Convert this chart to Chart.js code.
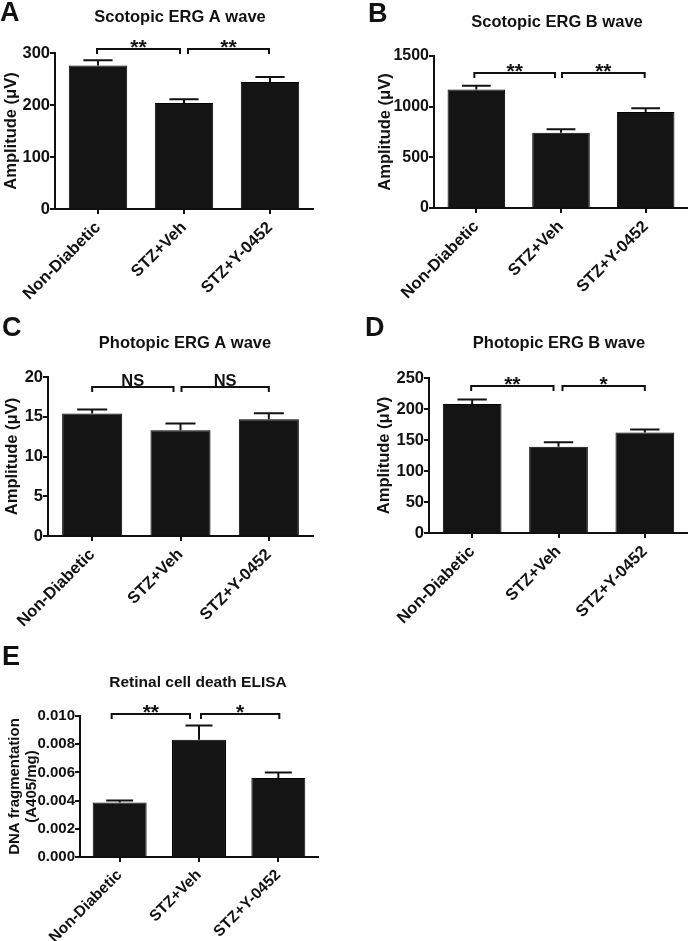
<!DOCTYPE html>
<html>
<head>
<meta charset="utf-8">
<script src="https://cdn.jsdelivr.net/npm/chart.js@4.4.1/dist/chart.umd.min.js"></script>
<style>
html,body{margin:0;padding:0;background:#fff;width:688px;height:941px;overflow:hidden;}
canvas{position:absolute;left:0;top:0;}
</style>
</head>
<body>
<canvas id="cA" width="688" height="941"></canvas>
<canvas id="cB" width="688" height="941"></canvas>
<canvas id="cC" width="688" height="941"></canvas>
<canvas id="cD" width="688" height="941"></canvas>
<canvas id="cE" width="688" height="941"></canvas>
<script>
// ---- data ----
const categories = ['Non-Diabetic', 'STZ+Veh', 'STZ+Y-0452'];

const scotopicA_mean = [276, 204, 244];
const scotopicA_sem  = [10, 7, 10];
const scotopicB_mean = [1170, 743, 947];
const scotopicB_sem  = [37, 34, 37];
const photopicA_mean = [15.4, 13.3, 14.7];
const photopicA_sem  = [0.5, 0.85, 0.75];
const photopicB_mean = [208, 139, 162];
const photopicB_sem  = [7.5, 7.5, 4.8];
const elisa_mean = [0.00387, 0.00832, 0.0056];
const elisa_sem  = [0.00014, 0.001, 0.0004];

const sigA = ['**', '**'];
const sigB = ['**', '**'];
const sigC = ['NS', 'NS'];
const sigD = ['**', '*'];
const sigE = ['**', '*'];

const ticksA = {max: 300, step: 100};
const ticksB = {max: 1500, step: 500};
const ticksC = {max: 20, step: 5};
const ticksD = {max: 250, step: 50};
const ticksE = {max: 0.010, step: 0.002};

// ---- drawing ----
const FONT = "'Liberation Sans', Arial, Helvetica, sans-serif";
const INK = '#111111';

const annotPlugin = {
  id: 'annot',
  afterDatasetsDraw(chart, args, o) {
    const ctx = chart.ctx;
    const meta = chart.getDatasetMeta(0);
    const ys = chart.scales.y;
    const xs = chart.scales.x;
    ctx.save();
    // error bars
    ctx.strokeStyle = INK;
    ctx.lineWidth = 2;
    o.mean.forEach((m, i) => {
      const bar = meta.data[i];
      const yTop = ys.getPixelForValue(m + o.sem[i]);
      const half = bar.width * 0.25;
      ctx.beginPath();
      ctx.moveTo(bar.x, bar.y);
      ctx.lineTo(bar.x, yTop);
      ctx.moveTo(bar.x - half, yTop);
      ctx.lineTo(bar.x + half, yTop);
      ctx.stroke();
    });
    // brackets
    o.brackets.forEach((b, k) => {
      const x0 = xs.getPixelForValue(b.from) + b.d0;
      const x1 = xs.getPixelForValue(b.to) + b.d1;
      const y = o.bracketY;
      ctx.beginPath();
      ctx.moveTo(x0, y + 5);
      ctx.lineTo(x0, y);
      ctx.lineTo(x1, y);
      ctx.lineTo(x1, y + 5);
      ctx.stroke();
      const lab = o.sig[k];
      const isStar = lab.indexOf('*') >= 0;
      ctx.fillStyle = INK;
      ctx.textAlign = 'center';
      ctx.textBaseline = 'alphabetic';
      ctx.font = 'bold ' + (isStar ? o.starSize : 16.5) + 'px ' + FONT;
      ctx.fillText(lab, (x0 + x1) / 2, isStar ? y + 5 : y - 1);
    });
    // panel title
    ctx.fillStyle = INK;
    ctx.textAlign = 'center';
    ctx.textBaseline = 'middle';
    ctx.font = 'bold ' + o.titleSize + 'px ' + FONT;
    ctx.fillText(o.title, o.titleX, o.titleY);
    // panel letter
    ctx.textAlign = 'left';
    ctx.textBaseline = 'alphabetic';
    ctx.font = 'bold 27px ' + FONT;
    ctx.fillText(o.letter, o.letterX, o.letterY);
    ctx.restore();
  }
};

function makePanel(id, p) {
  const xH = Math.min(100, 941 - p.area.b);
  return new Chart(document.getElementById(id), {
    type: 'bar',
    data: {
      labels: categories,
      datasets: [{
        data: p.mean,
        backgroundColor: '#141414',
        borderColor: '#000000',
        borderWidth: 1,
        barPercentage: 0.68,
        categoryPercentage: 1.0
      }]
    },
    options: {
      responsive: false,
      animation: false,
      devicePixelRatio: 1,
      layout: {
        padding: {
          left: p.area.l - p.yW,
          top: p.area.t,
          right: 688 - p.area.r,
          bottom: 941 - p.area.b - xH
        }
      },
      plugins: {
        legend: {display: false},
        title: {display: false},
        tooltip: {enabled: false},
        annot: {
          mean: p.mean, sem: p.sem, sig: p.sig,
          brackets: p.brackets, bracketY: p.bracketY, starSize: 21,
          title: p.title, titleX: p.titleX, titleY: p.titleY, titleSize: p.titleSize,
          letter: p.letter, letterX: p.letterX, letterY: p.letterY
        }
      },
      scales: {
        x: {
          offset: true,
          afterFit(s) { s.height = xH; },
          border: {display: true, color: INK, width: 2},
          grid: {display: true, drawOnChartArea: false, drawTicks: true, tickLength: 5, offset: false, color: INK, lineWidth: 2},
          ticks: {
            color: INK, autoSkip: false, minRotation: 45, maxRotation: 45, padding: 4,
            font: {family: FONT, size: p.xFont, weight: 'bold'}
          }
        },
        y: {
          min: 0, max: p.ticks.max,
          afterFit(s) { s.width = p.yW; },
          border: {display: true, color: INK, width: 2},
          grid: {display: true, drawOnChartArea: false, drawTicks: true, tickLength: 5, color: INK, lineWidth: 2},
          ticks: {
            color: INK, stepSize: p.ticks.step, padding: 0,
            font: {family: FONT, size: p.yFont, weight: 'bold'},
            callback: p.fmt
          },
          title: {
            display: true, text: p.yTitle, color: INK, padding: {top: 0, bottom: 0},
            font: {family: FONT, size: p.yTitleSize, weight: 'bold', lineHeight: p.yTitleLH}
          }
        }
      }
    },
    plugins: [annotPlugin]
  });
}

const intFmt = v => String(Math.round(v));

makePanel('cA', {
  mean: scotopicA_mean, sem: scotopicA_sem, sig: sigA, ticks: ticksA, fmt: intFmt,
  area: {l: 55, t: 53, r: 313, b: 209}, yW: 53,
  yTitle: 'Amplitude (\u03bcV)', yTitleSize: 16.5, yTitleLH: 1.2, xFont: 16.5, yFont: 16.5,
  bracketY: 49, brackets: [{from: 0, to: 1, d0: -1, d1: -4}, {from: 1, to: 2, d0: 4, d1: -1}],
  title: 'Scotopic ERG A wave', titleX: 180, titleY: 17, titleSize: 16.5,
  letter: 'A', letterX: 0, letterY: 21
});
makePanel('cB', {
  mean: scotopicB_mean, sem: scotopicB_sem, sig: sigB, ticks: ticksB, fmt: intFmt,
  area: {l: 434, t: 56, r: 688, b: 208}, yW: 58,
  yTitle: 'Amplitude (\u03bcV)', yTitleSize: 16.5, yTitleLH: 1.2, xFont: 16.5, yFont: 16,
  bracketY: 73, brackets: [{from: 0, to: 1, d0: -2, d1: -6}, {from: 1, to: 2, d0: 1, d1: -1}],
  title: 'Scotopic ERG B wave', titleX: 557, titleY: 22, titleSize: 16.5,
  letter: 'B', letterX: 368, letterY: 22
});
makePanel('cC', {
  mean: photopicA_mean, sem: photopicA_sem, sig: sigC, ticks: ticksC, fmt: intFmt,
  area: {l: 48, t: 377, r: 313, b: 536}, yW: 45,
  yTitle: 'Amplitude (\u03bcV)', yTitleSize: 16.5, yTitleLH: 1.2, xFont: 16.5, yFont: 16.5,
  bracketY: 387, brackets: [{from: 0, to: 1, d0: 0, d1: -7}, {from: 1, to: 2, d0: 1, d1: 0}],
  title: 'Photopic ERG A wave', titleX: 185, titleY: 343, titleSize: 16.5,
  letter: 'C', letterX: 2, letterY: 336
});
makePanel('cD', {
  mean: photopicB_mean, sem: photopicB_sem, sig: sigD, ticks: ticksD, fmt: intFmt,
  area: {l: 429, t: 378, r: 688, b: 533}, yW: 54,
  yTitle: 'Amplitude (\u03bcV)', yTitleSize: 16.5, yTitleLH: 1.2, xFont: 16.5, yFont: 16.5,
  bracketY: 386, brackets: [{from: 0, to: 1, d0: -1, d1: -5}, {from: 1, to: 2, d0: 4, d1: 0}],
  title: 'Photopic ERG B wave', titleX: 559, titleY: 343, titleSize: 16.5,
  letter: 'D', letterX: 365, letterY: 336
});
makePanel('cE', {
  mean: elisa_mean, sem: elisa_sem, sig: sigE, ticks: ticksE, fmt: v => v.toFixed(3),
  area: {l: 80, t: 716, r: 318, b: 857}, yW: 74,
  yTitle: ['DNA fragmentation', '(A405/mg)'], yTitleSize: 15, yTitleLH: 1.15, xFont: 15.5, yFont: 15,
  bracketY: 714, brackets: [{from: 0, to: 1, d0: -8, d1: -9}, {from: 1, to: 2, d0: 2, d1: 1}],
  title: 'Retinal cell death ELISA', titleX: 198, titleY: 683, titleSize: 15.5,
  letter: 'E', letterX: 2, letterY: 665
});
</script>
</body>
</html>
